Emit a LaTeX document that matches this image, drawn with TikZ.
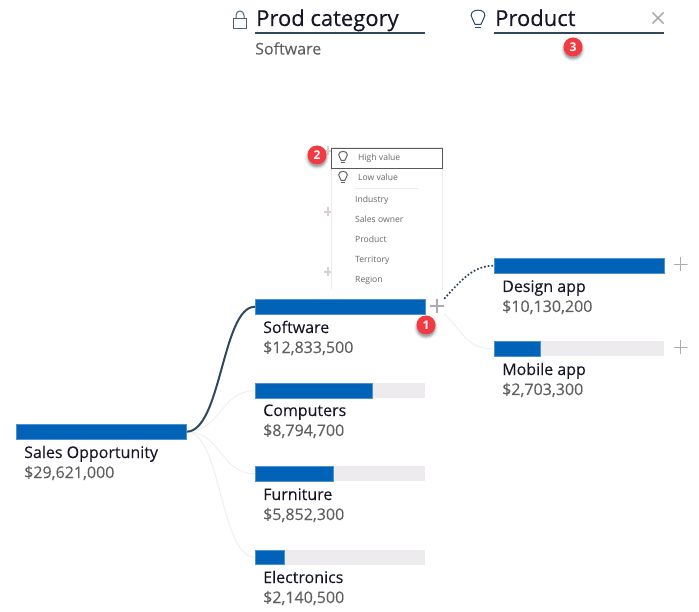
\documentclass[tikz,border=0pt]{standalone}
\usepackage{fontspec}
\setmainfont{Open Sans}
\newfontfamily\medfont[FakeBold=0.12]{Open Sans}
\newfontfamily\headfont[FakeBold=0.3]{Open Sans}
\usetikzlibrary{calc}
\definecolor{barblue}{HTML}{0063B8}
\definecolor{track}{HTML}{EDEBED}
\definecolor{navy}{HTML}{2F4860}
\definecolor{valgray}{HTML}{605E60}
\definecolor{namedark}{HTML}{161628}
\definecolor{plusgray}{HTML}{ADABAD}
\definecolor{palegray}{HTML}{D8CFCF}
\definecolor{linkgray}{HTML}{F0EEF0}
\definecolor{menutext}{HTML}{6A686A}
\definecolor{badgered}{HTML}{F23A42}
\tikzset{
  trackbar/.style={draw=none,fill=track,anchor=north west,inner sep=0pt,minimum height=15pt},
  fillbar/.style={draw=barblue!70!white,line width=0.4pt,fill=barblue,anchor=north west,inner sep=0pt,minimum height=14.6pt},
  nametext/.style={anchor=base west,inner sep=0pt,font=\medfont\fontsize{16}{16}\selectfont,text=namedark},
  valtext/.style={anchor=base west,inner sep=0pt,font=\medfont\fontsize{16}{16}\selectfont,text=valgray},
  headtext/.style={anchor=base west,inner sep=0pt,font=\headfont\fontsize{22}{22}\selectfont,text=namedark},
  menuitem/.style={anchor=base west,inner sep=0pt,font=\fontsize{8.6}{9}\selectfont,text=menutext},
  plusnode/.style={minimum size=14pt,inner sep=0pt,path picture={
    \draw[plusgray,line width=1.6pt] (path picture bounding box.west)--(path picture bounding box.east)
    (path picture bounding box.north)--(path picture bounding box.south);}},
  hiddenplus/.style={minimum size=9pt,inner sep=0pt,path picture={
    \draw[palegray,line width=1.3pt] (path picture bounding box.west)--(path picture bounding box.east)
    (path picture bounding box.north)--(path picture bounding box.south);}},
  strongl/.style={navy,line width=2pt},
  faintl/.style={linkgray,line width=1pt},
  dotl/.style={navy!90!black,line width=1.7pt,dash pattern=on 1.7pt off 2pt},
  headrule/.style={navy,line width=2.6pt},
  badge/.style={circle,fill=badgered,text=white,inner sep=0pt,minimum size=19pt,font=\bfseries\fontsize{12}{12}\selectfont},
  pics/bulb/.style={code={
    \draw[#1,line width=1pt] (-3,5.5) .. controls (-3.4,1.5) and (-7,0.5) .. (-7,-3.5)
      .. controls (-7,-7.5) and (-3.5,-9) .. (0,-9)
      .. controls (3.5,-9) and (7,-7.5) .. (7,-3.5)
      .. controls (7,0.5) and (3.4,1.5) .. (3,5.5) -- cycle;
    \draw[#1,line width=1pt] (-2.7,8.5) -- (2.7,8.5);
  }},
  pics/bulb/.default=navy,
}
\newcommand{\badgeshadow}[2]{%
  \foreach \r/\o in {12/0.05,11/0.08,10/0.12,9/0.15}{\fill[black,opacity=\o] (#1,#2+2.5) circle[radius=\r];}%
}
\begin{document}
\begin{tikzpicture}[x=1pt,y=-1pt]
\useasboundingbox (0,0) rectangle (699,612);
% headers
\node[headtext] (hcat) at (256,26) {Prod category};
\node[headtext] (hprod) at (495,26) {Product};
\coordinate (rulea) at (255,33); \coordinate (ruleae) at (425,33);
\coordinate (ruleb) at (494,33); \coordinate (rulebe) at (664,33);
\draw[headrule] (rulea)--(ruleae);
\draw[headrule] (ruleb)--(rulebe);
\node[valtext] (hsel) at (255,54.5) {Software};
% lock
\draw[navy!85!white,line width=1pt] (233.5,18.5) rectangle (246.5,28.5);
\draw[navy!85!white,line width=1pt] (236,18.5) -- (236,15.5) .. controls (236,9.5) and (244,9.5) .. (244,15.5) -- (244,18.5);
% header bulb
\pic[scale=0.98] at (478,19) {bulb};
% close
\draw[plusgray,line width=1.6pt] (652.5,12.5)--(663.5,23.5) (663.5,12.5)--(652.5,23.5);
% level 1 bars
\node[trackbar,minimum width=170pt] (sales) at (16,424) {};
\node[fillbar,minimum width=170pt] (salesf) at (16,424) {};
\node[trackbar,minimum width=170pt] (soft) at (255,299) {};
\node[fillbar,minimum width=170pt] (softf) at (255,299) {};
\node[trackbar,minimum width=170pt] (comp) at (255,383) {};
\node[fillbar,minimum width=116.6pt] (compf) at (255,383) {};
\node[trackbar,minimum width=170pt] (furn) at (255,466) {};
\node[fillbar,minimum width=77.6pt] (furnf) at (255,466) {};
\node[trackbar,minimum width=170pt] (elec) at (255,549.5) {};
\node[fillbar,minimum width=28.6pt] (elecf) at (255,549.5) {};
\node[trackbar,minimum width=170pt] (design) at (494,258) {};
\node[fillbar,minimum width=170pt] (designf) at (494,258) {};
\node[trackbar,minimum width=170pt] (mobile) at (494,341) {};
\node[fillbar,minimum width=45.6pt] (mobilef) at (494,341) {};
% labels
\node[nametext] (l1) at (24,458) {Sales Opportunity};
\node[valtext] (v1) at (24,478) {\$29,621,000};
\node[nametext] (l2) at (263,333) {Software};
\node[valtext] (v2) at (263,353) {\$12,833,500};
\node[nametext] (l3) at (263,416) {Computers};
\node[valtext] (v3) at (263,436) {\$8,794,700};
\node[nametext] (l4) at (263,500) {Furniture};
\node[valtext] (v4) at (263,520) {\$5,852,300};
\node[nametext] (l5) at (263,583) {Electronics};
\node[valtext] (v5) at (263,603) {\$2,140,500};
\node[nametext] (l6) at (502,292) {Design app};
\node[valtext] (v6) at (502,312) {\$10,130,200};
\node[nametext] (l7) at (502,375) {Mobile app};
\node[valtext] (v7) at (502,395) {\$2,703,300};
% pluses
\node[plusnode] (psoft) at (437,306) {};
\node[plusnode] (pdesign) at (680.5,264.5) {};
\node[plusnode] (pmobile) at (680.5,347.5) {};
\node[hiddenplus] (pt) at (328,151) {};
\node[hiddenplus] (pa) at (328,212) {};
\node[hiddenplus] (pb) at (328,272) {};
% connectors
\draw[faintl] (sales.east) .. controls +(35,0) and +(-35,0) .. (comp.west);
\draw[faintl] (sales.east) .. controls +(35,0) and +(-35,0) .. (furn.west);
\draw[faintl] (sales.east) .. controls +(35,0) and +(-35,0) .. (elec.west);
\draw[strongl] (sales.east) .. controls +(35,0) and +(-33,0) .. (soft.west);
\draw[faintl] (psoft.south east) .. controls +(22,24) and +(-25,0) .. (mobile.west);
\draw[dotl] (psoft.north east) .. controls +(18,-20) and +(-20,0) .. (design.west);
% menu
\node[fill=white,anchor=north west,inner sep=0pt,minimum width=111pt,minimum height=142pt] (menu) at (331,148) {};
\draw[track,line width=1pt] (menu.south west)--(menu.north west)--(menu.north east)--(menu.south east);
\node[draw=black!65,line width=1pt,fill=white,anchor=north west,inner sep=0pt,minimum width=111pt,minimum height=20pt] (hi) at (331,148) {};
\pic[scale=0.62] at (343,157) {bulb=black!60};
\pic[scale=0.62] at (343,177) {bulb=black!60};
\node[menuitem] (m1) at (358,161) {High value};
\node[menuitem] (m2) at (358,181) {Low value};
\coordinate (sepa) at (355,189); \coordinate (sepb) at (418,189);
\draw[track,line width=1pt] (sepa)--(sepb);
\node[menuitem] (m3) at (355,202.5) {Industry};
\node[menuitem] (m4) at (355,222.5) {Sales owner};
\node[menuitem] (m5) at (355,242.5) {Product};
\node[menuitem] (m6) at (355,262.5) {Territory};
\node[menuitem] (m7) at (355,282.5) {Region};
% badges
\badgeshadow{426}{325}
\node[badge] (b1) at (426,325) {1};
\badgeshadow{317}{155}
\node[badge] (b2) at (317,155) {2};
\badgeshadow{573}{47}
\node[badge] (b3) at (573,47) {3};
\end{tikzpicture}
\end{document}
